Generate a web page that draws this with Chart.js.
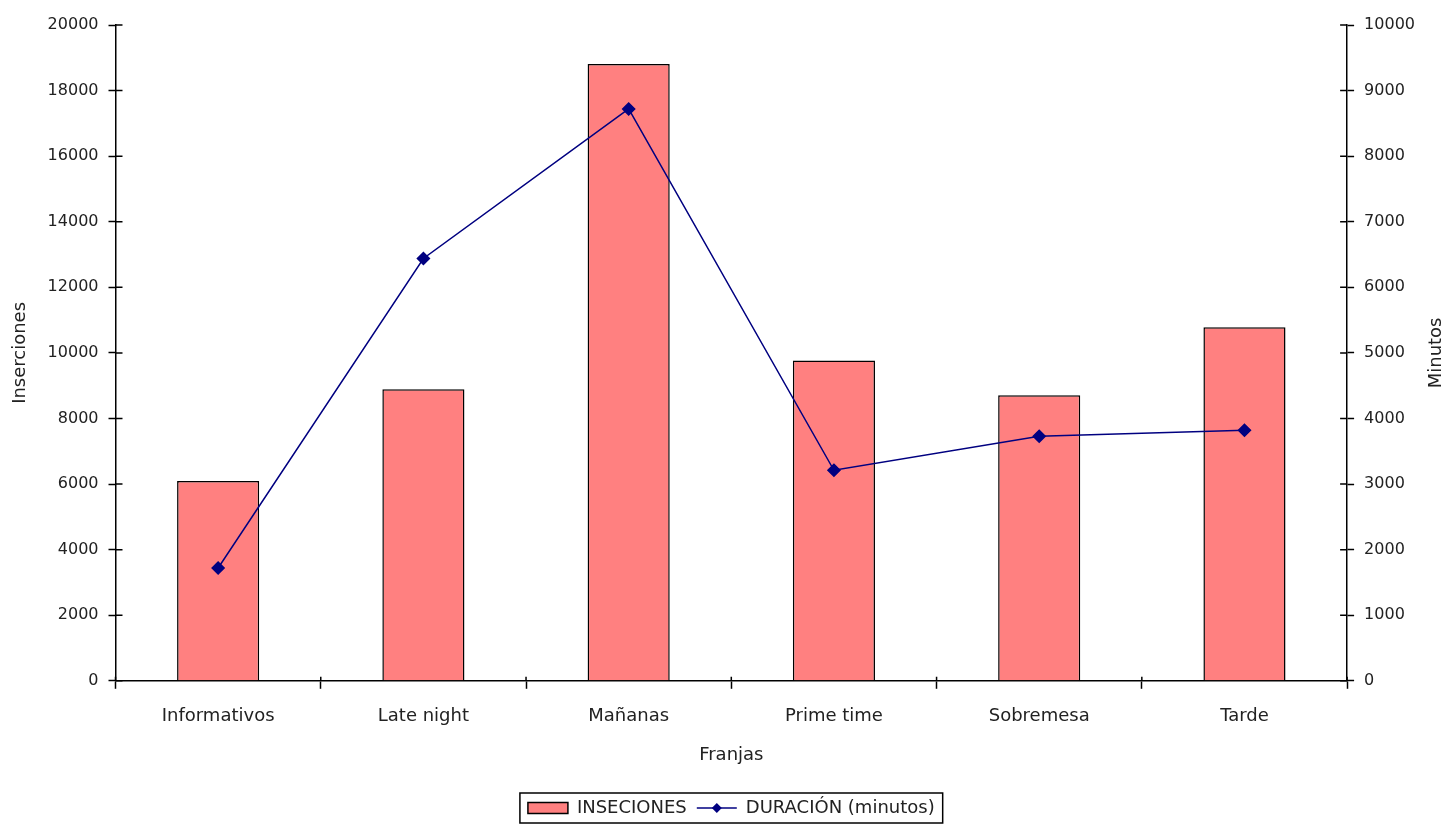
<!DOCTYPE html>
<html>
<head>
<meta charset="utf-8">
<script src="https://cdn.jsdelivr.net/npm/chart.js@4"></script>
<style>
html,body{margin:0;padding:0;background:#fff;}
#wrap{width:1443px;height:824px;}
</style>
</head>
<body>
<div id="wrap"><canvas id="c" width="1443" height="824"></canvas></div>
<script>
const categories = ['Informativos', 'Late night', 'Mañanas', 'Prime time', 'Sobremesa', 'Tarde'];
const inserciones = [6090, 8890, 18810, 9770, 8710, 10780];
const duracion = [1720, 6440, 8720, 3210, 3730, 3820];
const leftTicks = [0, 2000, 4000, 6000, 8000, 10000, 12000, 14000, 16000, 18000, 20000];
const rightTicks = [0, 1000, 2000, 3000, 4000, 5000, 6000, 7000, 8000, 9000, 10000];
const seriesNames = ['INSECIONES', 'DURACIÓN (minutos)'];
const axisTitles = { x: 'Franjas', y: 'Inserciones', y1: 'Minutos' };

const FONT = 'DejaVu Sans';
const TXT = '#222';

const extras = {
  id: 'extras',
  afterDraw(chart) {
    const ctx = chart.ctx;
    const area = chart.chartArea;
    // inner halves of the crossing tick marks
    ctx.save();
    ctx.strokeStyle = '#000';
    ctx.lineWidth = 1.5;
    ctx.beginPath();
    const y = chart.scales.y, y1 = chart.scales.y1, x = chart.scales.x;
    y.ticks.forEach(t => { const p = y.getPixelForValue(t.value); ctx.moveTo(area.left, p); ctx.lineTo(area.left + 7, p); });
    y1.ticks.forEach(t => { const p = y1.getPixelForValue(t.value); ctx.moveTo(area.right, p); ctx.lineTo(area.right - 7, p); });
    for (let i = 0; i <= categories.length; i++) {
      const p = x.getPixelForValue(i - 0.5);
      ctx.moveTo(p, area.bottom); ctx.lineTo(p, area.bottom - 4);
    }
    ctx.stroke();
    ctx.restore();

    const lg = chart.legend;
    if (lg && lg.legendHitBoxes && lg.legendHitBoxes.length) {
      const boxes = lg.legendHitBoxes;
      const x0 = boxes[0].left - 8;
      const last = boxes[boxes.length - 1];
      const x1 = last.left + last.width + 8;
      const y0 = boxes[0].top - 6;
      const yb = boxes[0].top + boxes[0].height + 6;
      ctx.save();
      ctx.strokeStyle = '#000';
      ctx.lineWidth = 1.5;
      ctx.strokeRect(x0, y0, x1 - x0, yb - y0);
      const b = boxes[1];
      const cy = b.top + b.height / 2;
      const lx0 = b.left, lx1 = b.left + 40;
      ctx.strokeStyle = '#000080';
      ctx.lineWidth = 1.5;
      ctx.beginPath(); ctx.moveTo(lx0, cy); ctx.lineTo(lx1, cy); ctx.stroke();
      const mx = (lx0 + lx1) / 2, r = 5;
      ctx.fillStyle = '#000080';
      ctx.beginPath();
      ctx.moveTo(mx, cy - r); ctx.lineTo(mx + r, cy); ctx.lineTo(mx, cy + r); ctx.lineTo(mx - r, cy);
      ctx.closePath(); ctx.fill();
      ctx.restore();
    }
    ctx.save();
    ctx.fillStyle = TXT;
    ctx.font = '18px "' + FONT + '"';
    ctx.textAlign = 'center';
    ctx.textBaseline = 'middle';
    ctx.translate(1436, (area.top + area.bottom) / 2);
    ctx.rotate(-Math.PI / 2);
    ctx.fillText(axisTitles.y1, 0, 0);
    ctx.restore();
  }
};

new Chart(document.getElementById('c'), {
  data: {
    labels: categories,
    datasets: [
      {
        type: 'line',
        label: seriesNames[1],
        data: duracion,
        yAxisID: 'y1',
        borderColor: '#000080',
        backgroundColor: '#000080',
        borderWidth: 1.5,
        pointStyle: 'rectRot',
        pointRadius: 6,
        pointHoverRadius: 6,
        tension: 0,
        order: 0
      },
      {
        type: 'bar',
        label: seriesNames[0],
        data: inserciones,
        yAxisID: 'y',
        backgroundColor: '#FF8080',
        borderColor: '#000',
        borderWidth: 1.5,
        barPercentage: 0.4,
        categoryPercentage: 1.0,
        order: 1
      }
    ]
  },
  options: {
    responsive: false,
    animation: false,
    layout: { padding: { left: 2, right: 18, top: 25, bottom: -3 } },
    plugins: {
      tooltip: { enabled: false },
      legend: {
        position: 'bottom',
        fullSize: false,
        reverse: true,
        labels: {
          color: TXT,
          font: { family: FONT, size: 18 },
          boxWidth: 40,
          boxHeight: 11,
          padding: 10,
          generateLabels(chart) {
            const items = Chart.defaults.plugins.legend.labels.generateLabels(chart);
            items.forEach(it => {
              if (it.datasetIndex === 0) {
                it.fillStyle = 'rgba(0,0,0,0)';
                it.strokeStyle = 'rgba(0,0,0,0)';
                it.lineWidth = 0;
              } else {
                it.lineWidth = 1.5;
                it.strokeStyle = '#000';
              }
            });
            return items;
          }
        }
      }
    },
    scales: {
      x: {
        offset: true,
        grid: { offset: true, drawOnChartArea: false, color: '#000', tickLength: 8, tickWidth: 1.5 },
        border: { color: '#000', width: 1.5 },
        ticks: { color: TXT, font: { family: FONT, size: 18 }, padding: 17, maxRotation: 0 },
        title: { display: true, text: axisTitles.x, color: TXT, font: { family: FONT, size: 18 }, padding: { top: 0, bottom: 23 } }
      },
      y: {
        position: 'left',
        min: 0, max: 20000,
        afterBuildTicks(scale) { scale.ticks = leftTicks.map(v => ({ value: v })); },
        grid: { drawOnChartArea: false, color: '#000', tickLength: 7, tickWidth: 1.5 },
        border: { color: '#000', width: 1.5 },
        ticks: { color: TXT, font: { family: FONT, size: 16 }, padding: 10, callback: v => String(v) },
        title: { display: true, text: axisTitles.y, color: TXT, font: { family: FONT, size: 18 }, padding: { top: 8, bottom: 6 } }
      },
      y1: {
        position: 'right',
        min: 0, max: 10000,
        afterBuildTicks(scale) { scale.ticks = rightTicks.map(v => ({ value: v })); },
        grid: { drawOnChartArea: false, color: '#000', tickLength: 7, tickWidth: 1.5 },
        border: { color: '#000', width: 1.5 },
        ticks: { color: TXT, font: { family: FONT, size: 16 }, padding: 10, callback: v => String(v) }
      }
    }
  },
  plugins: [extras]
});
</script>
</body>
</html>
